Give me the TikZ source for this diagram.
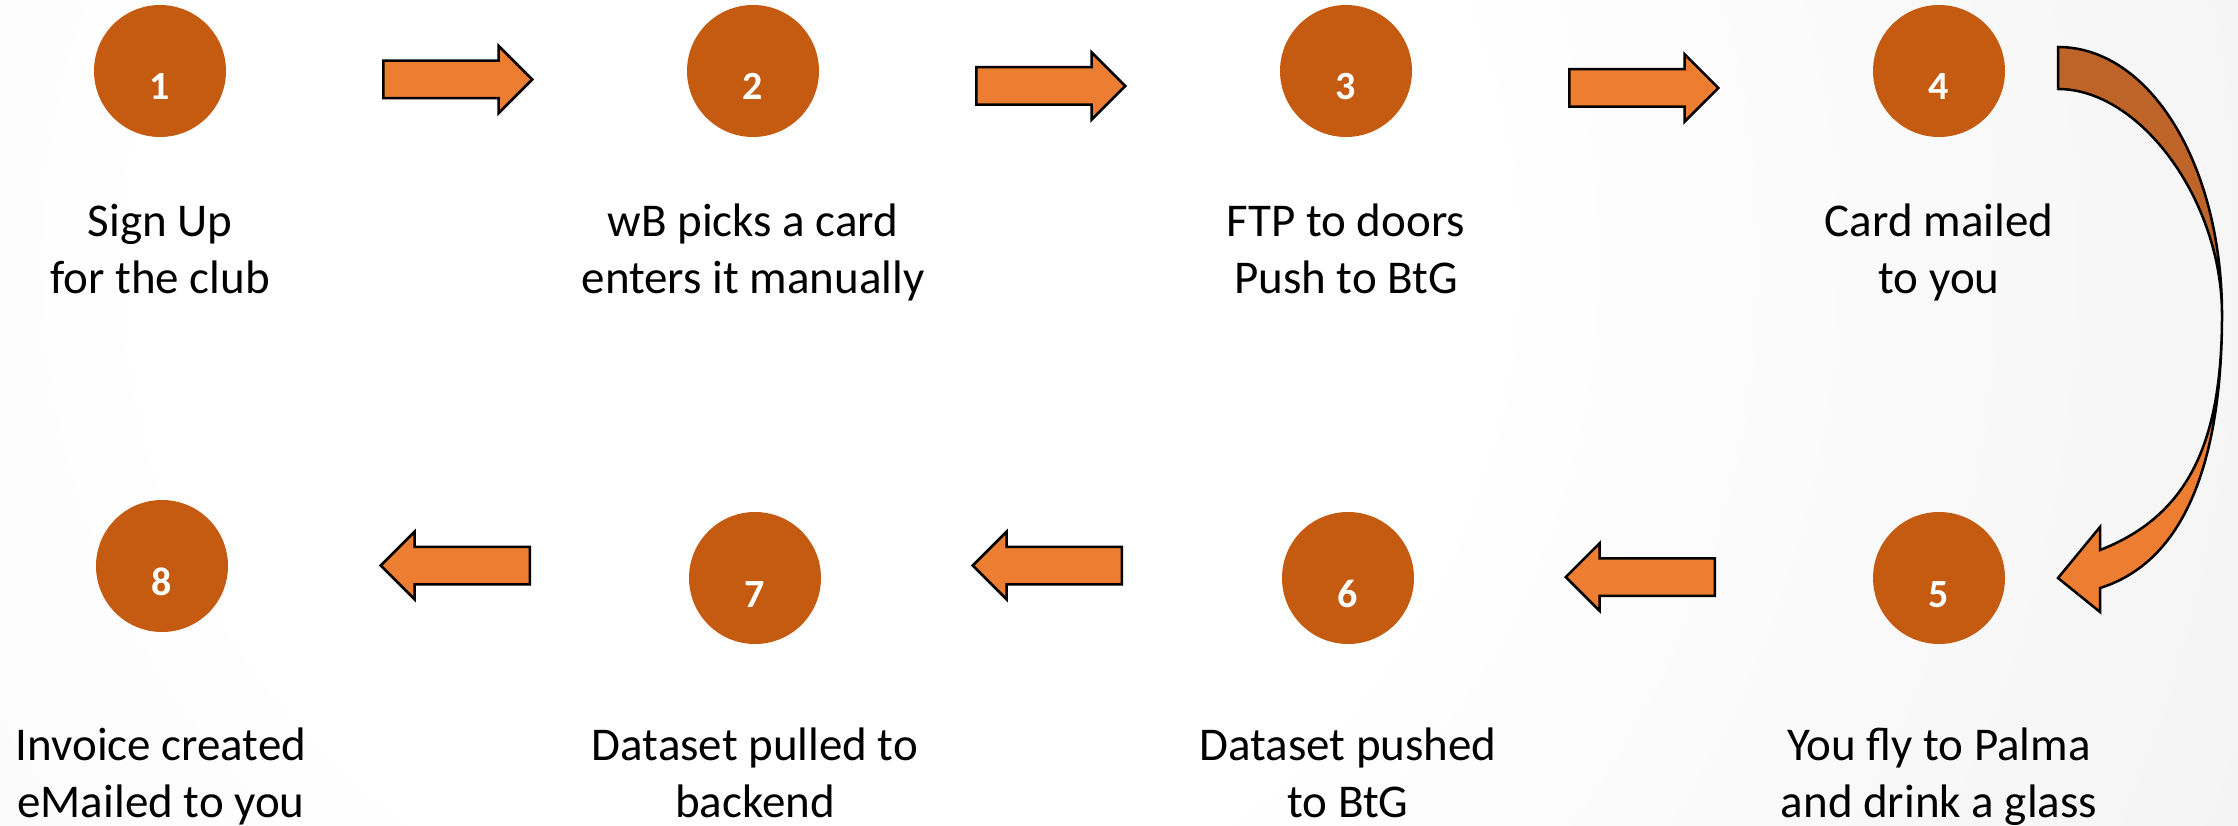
\documentclass[tikz,border=0pt]{standalone}
\usepackage{fontspec}
\setmainfont{Carlito}
\usetikzlibrary{shapes.arrows}
\definecolor{StepOrange}{RGB}{197,90,17}
\definecolor{ArrowOrange}{RGB}{237,125,49}
\definecolor{BendShade}{RGB}{190,100,40}
\pgfdeclareradialshading{slideglow}{\pgfpoint{0bp}{0bp}}{color(0bp)=(white); color(10bp)=(white); color(50bp)=(black!13)}

\begin{document}
\begin{tikzpicture}[x=1pt, y=-1pt,
		stepdot/.style={circle, fill=StepOrange, minimum size=132pt, inner sep=0pt, text=white, font=\fontsize{40}{48}\selectfont\bfseries, text height=58pt, text depth=0pt},
		caption/.style={align=center, anchor=base, font=\fontsize{47}{57}\selectfont},
		blockarrow/.style={single arrow, draw=black, line width=2.5pt, fill=ArrowOrange, minimum height=149pt, minimum width=65pt, single arrow head extend=15pt, inner xsep=0pt, inner ysep=17.5pt, anchor=tail},
		backarrow/.style={blockarrow, shape border rotate=180},
		bendpart/.style={draw=black, line width=2.5pt, line join=miter}]
		\useasboundingbox (0, 0) rectangle (2238, 826);
		% The slide background, white on the left and greyer to the right
		\begin{scope}
			\clip (0, 0) rectangle (2238, 826);
			\shade [shading=slideglow] (820, 260) circle (1650);
		\end{scope}
		% The steps of the first row
		\node [stepdot] (s1) at (160, 71) {1};
		\node [stepdot] (s2) at (753, 71) {2};
		\node [stepdot] (s3) at (1346, 71) {3};
		\node [stepdot] (s4) at (1939, 71) {4};
		\node [caption] (t1) at (160, 294) {Sign Up\\for the club};
		\node [caption] (t2) at (753, 294) {wB picks a card\\enters it manually};
		\node [caption] (t3) at (1346, 294) {FTP to doors\\Push to BtG};
		\node [caption] (t4) at (1939, 294) {Card mailed\\to you};
		% The steps of the second row, run from right to left
		\node [stepdot] (s5) at (1939, 578) {5};
		\node [stepdot] (s6) at (1348, 578) {6};
		\node [stepdot] (s7) at (755, 578) {7};
		\node [stepdot] (s8) at (162, 566) {8};
		\node [caption] (t5) at (1939, 817) {You fly to Palma\\and drink a glass};
		\node [caption] (t6) at (1348, 817) {Dataset pushed\\to BtG};
		\node [caption] (t7) at (755, 817) {Dataset pulled to\\backend};
		\node [caption] (t8) at (161, 817) {Invoice created\\eMailed to you};
		% Block arrows between the steps (placed by their tails)
		\node [blockarrow] (a12) at (382, 79.5) {};
		\node [blockarrow] (a23) at (975, 86) {};
		\node [blockarrow] (a34) at (1568, 88) {};
		\node [backarrow] (a65) at (1716, 577) {};
		\node [backarrow] (a76) at (1123, 565.5) {};
		\node [backarrow] (a87) at (531, 565.5) {};
		% Bent arrow from step 4 down to step 5 [lower half, with the head]
		\coordinate (bend) at (2222, 315);
		\filldraw [bendpart, fill=ArrowOrange] (bend) .. controls (2222, 440) and (2190, 515) .. (2100, 550) -- (2100, 527) -- (2058, 578) -- (2100, 612) -- (2100, 588) .. controls (2190, 560) and (2222, 450) .. (bend) -- cycle;
		% Bent arrow [upper half, the shaded back]
		\filldraw [bendpart, fill=BendShade] (2058, 47) .. controls (2150, 47) and (2222, 165) .. (bend) .. controls (2222, 200) and (2140, 89) .. (2058, 89) -- cycle;
\end{tikzpicture}
\end{document}
